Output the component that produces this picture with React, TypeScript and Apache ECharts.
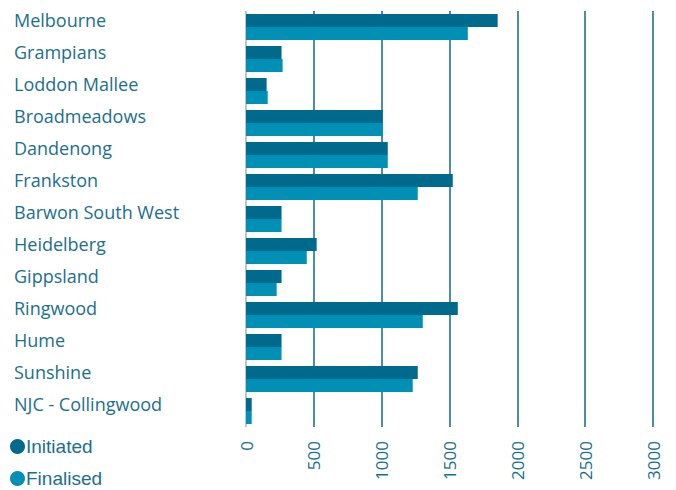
import React, { useEffect, useRef } from "react";
import * as echarts from "echarts";

const categories = [
  "Melbourne",
  "Grampians",
  "Loddon Mallee",
  "Broadmeadows",
  "Dandenong",
  "Frankston",
  "Barwon South West",
  "Heidelberg",
  "Gippsland",
  "Ringwood",
  "Hume",
  "Sunshine",
  "NJC - Collingwood",
];
const initiated = [1855, 262, 152, 1008, 1045, 1524, 262, 521, 262, 1561, 262, 1266, 42];
const finalised = [1635, 270, 160, 1008, 1045, 1266, 262, 448, 226, 1303, 262, 1229, 42];
const xTicks = { min: 0, max: 3000, interval: 500 };

const TEXT = "#1b6f8e";
const C_INIT = "#006a8c";
const C_FIN = "#0090b5";
const FONT = "'Open Sans', sans-serif";
const LEGEND_FONT = "'Liberation Sans', sans-serif";

export default function App() {
  const ref = useRef<HTMLDivElement>(null);
  useEffect(() => {
    if (!ref.current) return;
    const chart = echarts.init(ref.current, undefined, { renderer: "svg" });
    const legendBase = {
      orient: "vertical",
      left: 5,
      itemWidth: 15,
      itemHeight: 15,
      itemGap: 0,
      icon: "circle",
      textStyle: { color: TEXT, fontSize: 19, fontFamily: LEGEND_FONT, padding: [0, 0, 0, -4] },
    };
    chart.setOption({
      animation: false,
      grid: { left: 246, right: 23, top: 11, bottom: 63, containLabel: false },
      legend: [
        { ...legendBase, top: 432, data: ["Initiated"] },
        { ...legendBase, top: 464, data: ["Finalised"] },
      ],
      xAxis: {
        type: "value",
        min: xTicks.min,
        max: xTicks.max,
        interval: xTicks.interval,
        axisLine: { show: false },
        axisTick: { show: false },
        splitLine: {
          show: true,
          lineStyle: { color: ["#a3b6be", "#0e6a8a", "#0e6a8a", "#0e6a8a", "#0e6a8a", "#0e6a8a", "#0e6a8a"], width: 1.5 },
        },
        axisLabel: {
          rotate: 90,
          color: TEXT,
          fontSize: 17,
          fontFamily: FONT,
          margin: 14,
          formatter: (v: number) => String(v),
        },
      },
      yAxis: {
        type: "category",
        data: categories,
        inverse: true,
        axisLine: { show: false },
        axisTick: { show: false },
        axisLabel: {
          align: "left",
          verticalAlign: "bottom",
          lineHeight: 14,
          margin: 232,
          color: TEXT,
          fontSize: 18,
          fontFamily: FONT,
        },
      },
      series: [
        { name: "Initiated", type: "bar", data: initiated, itemStyle: { color: C_INIT }, barWidth: 13, barGap: "0%" },
        { name: "Finalised", type: "bar", data: finalised, itemStyle: { color: C_FIN }, barWidth: 13, barGap: "0%" },
      ],
    });
    return () => chart.dispose();
  }, []);
  return <div ref={ref} style={{ width: 676, height: 490, position: "absolute", left: 0, top: 0 }} />;
}
